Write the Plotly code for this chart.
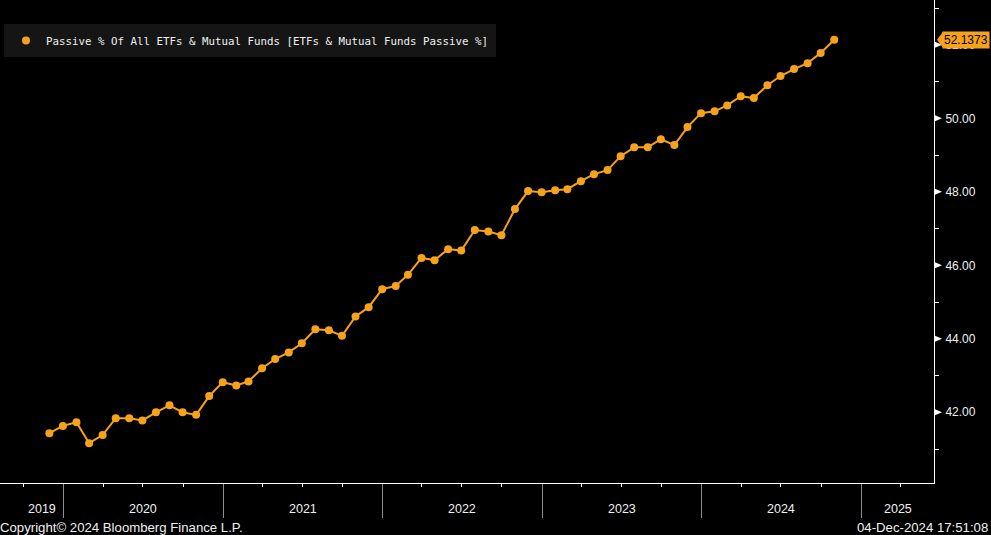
import plotly.graph_objects as go
import pandas as pd

# ---- data (monthly, month-end) ----
dates = pd.date_range("2019-11-30", periods=60, freq="ME")
passive_pct = [
    41.43, 41.63, 41.73, 41.16, 41.38, 41.84, 41.84, 41.78, 42.00, 42.19,
    42.00, 41.93, 42.44, 42.82, 42.73, 42.84, 43.20, 43.45, 43.63, 43.88,
    44.26, 44.23, 44.08, 44.61, 44.86, 45.35, 45.44, 45.74, 46.20, 46.14,
    46.44, 46.40, 46.96, 46.92, 46.82, 47.53, 48.02, 47.99, 48.04, 48.07,
    48.29, 48.48, 48.59, 48.97, 49.21, 49.21, 49.43, 49.27, 49.76, 50.14,
    50.19, 50.35, 50.60, 50.55, 50.90, 51.15, 51.34, 51.50, 51.78, 52.1373,
]
year_labels = ["2019", "2020", "2021", "2022", "2023", "2024", "2025"]
y_major_ticks = [42, 44, 46, 48, 50, 52]
series_name = "Passive % Of All ETFs & Mutual Funds [ETFs & Mutual Funds Passive %]"
copyright_text = "Copyright\u00a9 2024 Bloomberg Finance L.P."
timestamp_text = "04-Dec-2024 17:51:08"

ORANGE = "#F7A21B"
TXT = "#F0F0F0"
FONT = "Liberation Sans, Arial, sans-serif"

x_min = pd.Timestamp("2019-08-09")
x_max = pd.Timestamp("2025-06-16 10:00")
y_min, y_max = 40.076, 53.219

fig = go.Figure()
fig.add_trace(go.Scatter(
    x=dates, y=passive_pct, mode="lines+markers",
    line=dict(color=ORANGE, width=2),
    marker=dict(color=ORANGE, size=8),
    showlegend=False, hoverinfo="skip",
))
# legend entry (dot only, like the reference)
fig.add_trace(go.Scatter(
    x=[None], y=[None], mode="markers", name=series_name,
    marker=dict(color=ORANGE, size=8), showlegend=True,
))

annotations = []
# year labels centred on the visible part of each year
for i, yl in enumerate(year_labels):
    start = max(pd.Timestamp(f"{yl}-01-01"), x_min)
    end = min(pd.Timestamp(f"{int(yl) + 1}-01-01"), x_max)
    mid = start + (end - start) / 2
    annotations.append(dict(
        x=mid, y=0, xref="x", yref="paper", text=yl, showarrow=False,
        xanchor="center", yanchor="middle", yshift=-26,
        xshift=10 if i == 0 else 0,
        font=dict(family=FONT, size=12.5, color=TXT),
    ))
# last value badge
annotations.append(dict(
    x=1, y=passive_pct[-1], xref="paper", yref="y",
    text=f"{passive_pct[-1]:.4f}", showarrow=False,
    xanchor="left", yanchor="middle", xshift=8,
    bgcolor=ORANGE, borderpad=1,
    font=dict(family=FONT, size=12, color="#000000"),
))
# footer
annotations.append(dict(
    x=0, y=0, xref="paper", yref="paper", text=copyright_text,
    showarrow=False, xanchor="left", yanchor="middle", yshift=-44, xshift=-2,
    font=dict(family=FONT, size=13.2, color=TXT),
))
annotations.append(dict(
    x=1, y=0, xref="paper", yref="paper", text=timestamp_text,
    showarrow=False, xanchor="right", yanchor="middle", yshift=-44, xshift=56,
    font=dict(family=FONT, size=13.2, color=TXT),
))

shapes = []
# triangular major tick markers on the right axis
for v in y_major_ticks:
    shapes.append(dict(
        type="path", xref="paper", yref="y", xsizemode="pixel", ysizemode="pixel",
        xanchor=1, yanchor=v, path="M1,-3 L8,0 L1,3 Z",
        fillcolor="#FFFFFF", line=dict(width=0),
    ))
# arrow of the last-value badge
shapes.append(dict(
    type="path", xref="paper", yref="y", xsizemode="pixel", ysizemode="pixel",
    xanchor=1, yanchor=passive_pct[-1], path="M3,0 L9,-8 L9,8 Z",
    fillcolor=ORANGE, line=dict(width=0),
))

fig.update_layout(
    width=991, height=535,
    margin=dict(l=0, r=57, t=0, b=52),
    paper_bgcolor="#000000", plot_bgcolor="#000000",
    showlegend=True,
    legend=dict(
        x=4 / 934, y=1 - 24 / 483, xanchor="left", yanchor="top",
        bgcolor="#151515", bordercolor="#151515", borderwidth=2,
        font=dict(family="DejaVu Sans Mono, monospace", size=10.8, color=TXT),
        itemwidth=30,
    ),
    annotations=annotations,
    shapes=shapes,
    hovermode=False,
    xaxis=dict(
        type="date", range=[x_min, x_max],
        showgrid=False, zeroline=False,
        showline=True, linecolor="#FFFFFF", linewidth=1,
        ticks="outside", tickcolor="#8C8C8C", ticklen=34, tickwidth=1,
        dtick="M12", tick0="2020-01-01", showticklabels=False,
        minor=dict(ticks="outside", ticklen=3, tickcolor="#FFFFFF",
                   dtick="M3", tick0="2020-01-01", showgrid=False),
    ),
    yaxis=dict(
        side="right", range=[y_min, y_max],
        showgrid=False, zeroline=False,
        showline=True, linecolor="#FFFFFF", linewidth=1,
        ticks="outside", ticklen=8, tickcolor="rgba(0,0,0,0)",
        tickvals=y_major_ticks, tickformat=".2f",
        tickfont=dict(family=FONT, size=12, color=TXT),
        minor=dict(ticks="outside", ticklen=4, tickcolor="#FFFFFF",
                   dtick=1, tick0=0, showgrid=False),
    ),
)

fig.write_html(
    "out.html",
    config={"displayModeBar": False},
    post_script="document.body.style.margin='0';document.body.style.overflow='hidden';",
)
